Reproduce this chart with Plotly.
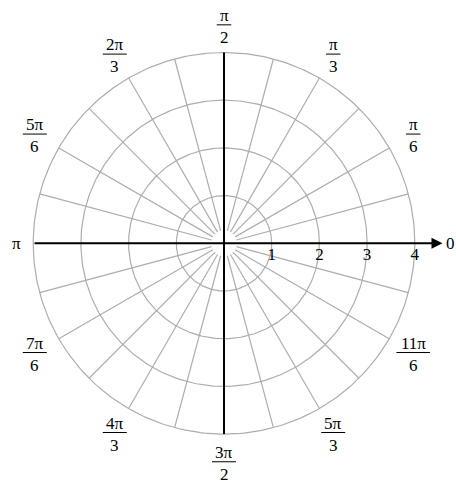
import numpy as np
import plotly.graph_objects as go

# ---- data ----
ring_radii = [1, 2, 3, 4]
spoke_angles_deg = [0, 15, 30, 45, 60, 75, 90, 105, 120, 135, 150, 165,
                    180, 195, 210, 225, 240, 255, 270, 285, 300, 315, 330, 345]
radial_tick_values = [1, 2, 3, 4]
radial_tick_labels = ["1", "2", "3", "4"]
label_angles_deg = [30, 60, 90, 120, 150, 210, 240, 270, 300, 330]
label_numerators = ["π", "π", "π", "2π", "5π", "7π", "4π", "3π", "5π", "11π"]
label_denominators = ["6", "3", "2", "3", "6", "6", "3", "2", "3", "6"]

# ---- geometry (pixel mapping) ----
W, H = 456, 488
CX, CY = 224.0, 243.3      # centre in pixels
UNIT = 47.7                # pixels per unit radius
R_MAX = max(ring_radii)
R_IN = 0.27
R_LABEL = 4.58

xr = [-CX / UNIT, (W - CX) / UNIT]
yr = [-(H - CY) / UNIT, CY / UNIT]

GRID = "#adadad"
FONT = "Liberation Serif"
FS = 17

fig = go.Figure()

# rings
t = np.linspace(0, 2 * np.pi, 361)
for r in ring_radii:
    fig.add_trace(go.Scatter(x=r * np.cos(t), y=r * np.sin(t), mode="lines",
                             line=dict(color=GRID, width=1.2), hoverinfo="skip",
                             showlegend=False))

# spokes
sx, sy = [], []
for a in spoke_angles_deg:
    th = np.deg2rad(a)
    sx += [R_IN * np.cos(th), R_MAX * np.cos(th), None]
    sy += [R_IN * np.sin(th), R_MAX * np.sin(th), None]
fig.add_trace(go.Scatter(x=sx, y=sy, mode="lines", line=dict(color=GRID, width=1.2),
                         hoverinfo="skip", showlegend=False))

# black axes
fig.add_trace(go.Scatter(x=[0, 0], y=[-R_MAX, R_MAX], mode="lines",
                         line=dict(color="black", width=2), hoverinfo="skip",
                         showlegend=False))
fig.add_annotation(x=4.58, y=0, ax=-R_MAX, ay=0, xref="x", yref="y", axref="x", ayref="y",
                   text="", showarrow=True, arrowhead=2, arrowsize=1.1, arrowwidth=2,
                   arrowcolor="black", standoff=0)

# radial tick labels
fig.add_trace(go.Scatter(x=radial_tick_values, y=[-0.26] * len(radial_tick_values),
                         mode="text", text=radial_tick_labels,
                         textfont=dict(family=FONT, size=FS, color="black"),
                         hoverinfo="skip", showlegend=False))

# angle labels 0 and pi
fig.add_annotation(x=4.74, y=0, text="0", showarrow=False,
                   font=dict(family=FONT, size=FS, color="black"))
fig.add_annotation(x=-4.34, y=0, text="π", showarrow=False,
                   font=dict(family=FONT, size=FS, color="black"))

# fraction labels
for a, num, den in zip(label_angles_deg, label_numerators, label_denominators):
    th = np.deg2rad(a)
    x = R_LABEL * np.cos(th)
    y = R_LABEL * np.sin(th)
    fig.add_annotation(x=x, y=y, text=num, showarrow=False, yanchor="bottom", yshift=-2,
                       font=dict(family=FONT, size=FS, color="black"))
    fig.add_annotation(x=x, y=y, text=den, showarrow=False, yanchor="top", yshift=-1,
                       font=dict(family=FONT, size=FS, color="black"))
    half = (max(len(num), len(den)) * 9.5 + 5) / 2 / UNIT
    fig.add_shape(type="line", x0=x - half, x1=x + half, y0=y, y1=y,
                  xref="x", yref="y", line=dict(color="black", width=1))

fig.update_layout(
    width=W, height=H, margin=dict(l=0, r=0, t=0, b=0),
    paper_bgcolor="white", plot_bgcolor="white",
    xaxis=dict(range=xr, visible=False, fixedrange=True),
    yaxis=dict(range=yr, visible=False, fixedrange=True),
)
fig.write_html("out.html", config={"displayModeBar": False},
               post_script="document.body.style.margin='0';document.body.style.overflow='hidden';")
